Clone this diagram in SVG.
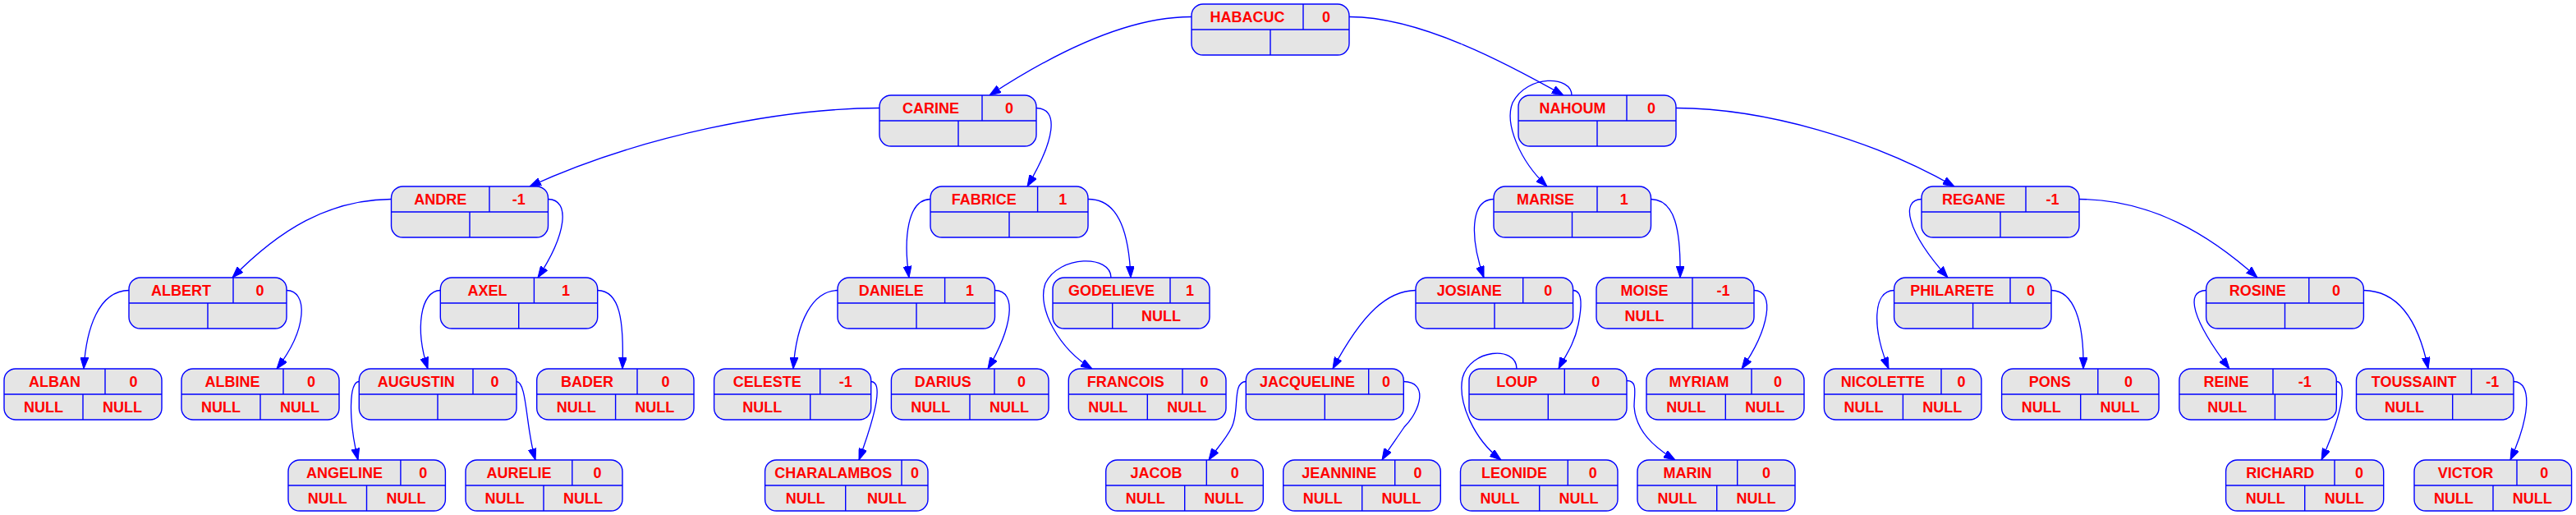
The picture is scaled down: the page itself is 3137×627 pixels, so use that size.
<svg xmlns="http://www.w3.org/2000/svg" width="3137" height="627" viewBox="0 0 3137 627">
<style>
.node rect{fill:#e5e5e5;stroke:#0000ff;stroke-width:1.4}
.node path{fill:none;stroke:#0000ff;stroke-width:1.4}
.node text{font-family:"Liberation Sans",Arial,sans-serif;font-weight:bold;font-size:18px;fill:#ff0000;text-anchor:middle}
.edges path{fill:none;stroke:#0000ff;stroke-width:1.3;marker-end:url(#arr)}
</style>
<defs>
<marker id="arr" markerUnits="userSpaceOnUse" markerWidth="14" markerHeight="10" refX="14" refY="5" orient="auto" viewBox="0 0 14 10">
<path d="M0,0 L14,5 L0,10 z" fill="#0000ff" stroke="#0000ff" stroke-width="1"/>
</marker>
</defs>
<rect width="3137" height="627" fill="#ffffff"/>
<g class="edges" id="edges">
<path d="M1451,20.5 C1360,20 1260,80 1205,116"/>
<path d="M1643,20.5 C1730,20 1840,80 1904,116"/>
<path d="M1071,131.5 C950,132 780,165 645,227"/>
<path d="M1262,131.5 C1290,132 1285,170 1251,227"/>
<path d="M1914,116 C1914,92 1860,90 1842,125 C1832,150 1850,195 1884,227"/>
<path d="M2041,131.5 C2150,132 2280,170 2380,227"/>
<path d="M476.5,242.5 C400,243 340,280 283,338"/>
<path d="M667.5,242.5 C695,243 690,285 655,338"/>
<path d="M1133,242.5 C1105,243 1100,290 1107,338"/>
<path d="M1325,242.5 C1365,242 1375,290 1377,338"/>
<path d="M1819,242.5 C1790,243 1790,290 1807,338"/>
<path d="M2010.5,242.5 C2040,243 2047,280 2046,338"/>
<path d="M2340,242.5 C2315,243 2320,280 2372,338"/>
<path d="M2532,242.5 C2620,243 2690,285 2749,338"/>
<path d="M157,353.5 C120,354 105,400 102,449"/>
<path d="M349,353.5 C375,354 375,400 337,449"/>
<path d="M536.3,353.5 C512,354 505,400 521,449"/>
<path d="M727.7,353.5 C755,354 760,390 758,449"/>
<path d="M1020,353.5 C990,354 970,390 966,449"/>
<path d="M1211.5,353.5 C1240,354 1232,400 1203,449"/>
<path d="M1353,338 C1353,310 1290,310 1273,345 C1262,375 1290,425 1330,449"/>
<path d="M1724,353.5 C1690,354 1660,380 1623,449"/>
<path d="M1916,353.5 C1928,354 1926,375 1922,395 C1917,420 1905,435 1898,449"/>
<path d="M2136,353.5 C2162,354 2155,400 2121,449"/>
<path d="M2306.6,353.5 C2280,354 2280,400 2300,449"/>
<path d="M2498,353.5 C2525,354 2538,390 2537,449"/>
<path d="M2686.6,353.5 C2660,354 2670,390 2715,449"/>
<path d="M2878.4,353.5 C2920,354 2945,390 2957,449"/>
<path d="M437.3,464.5 C425,465 424,510 436,560"/>
<path d="M629,464.5 C642,465 640,520 652,560"/>
<path d="M1060.7,464.5 C1075,465 1068,500 1046,560"/>
<path d="M1517.3,464.5 C1500,465 1510,500 1500,520 C1493,535 1480,548 1472,560"/>
<path d="M1709.3,464.5 C1740,465 1730,500 1710,520 C1700,535 1690,548 1683,560"/>
<path d="M1847,449 C1847,420 1790,425 1781,460 C1775,490 1795,535 1828,560"/>
<path d="M1981,463.5 C1995,463 1990,480 1990,495 C1992,525 2015,545 2040,560"/>
<path d="M2845.3,464.5 C2860,465 2850,510 2827,560"/>
<path d="M3061,464.5 C3085,465 3080,510 3057,560"/>
</g>

<g id="HABACUC" class="node"><rect x="1451" y="5" width="192" height="62" rx="14"/><path d="M1451,36H1643M1587,5V36M1547,36V67"/><text x="1519" y="26.5">HABACUC</text><text x="1615" y="26.5">0</text></g>
<g id="CARINE" class="node"><rect x="1071" y="116" width="191" height="62" rx="14"/><path d="M1071,147H1262M1196,116V147M1167,147V178"/><text x="1133.5" y="137.5">CARINE</text><text x="1229" y="137.5">0</text></g>
<g id="NAHOUM" class="node"><rect x="1849" y="116" width="192" height="62" rx="14"/><path d="M1849,147H2041M1981,116V147M1945,147V178"/><text x="1915" y="137.5">NAHOUM</text><text x="2011" y="137.5">0</text></g>

<g id="ANDRE" class="node"><rect x="476.5" y="227" width="191" height="62" rx="14"/><path d="M476.5,258H667.5M596,227V258M572,258V289"/><text x="536.3" y="248.5">ANDRE</text><text x="631.8" y="248.5">-1</text></g>
<g id="FABRICE" class="node"><rect x="1133" y="227" width="192" height="62" rx="14"/><path d="M1133,258H1325M1263.6,227V258M1229,258V289"/><text x="1198.3" y="248.5">FABRICE</text><text x="1294.3" y="248.5">1</text></g>
<g id="MARISE" class="node"><rect x="1819" y="227" width="191.5" height="62" rx="14"/><path d="M1819,258H2010.5M1945,227V258M1914.5,258V289"/><text x="1882" y="248.5">MARISE</text><text x="1977.8" y="248.5">1</text></g>
<g id="REGANE" class="node"><rect x="2340" y="227" width="192" height="62" rx="14"/><path d="M2340,258H2532M2467,227V258M2436,258V289"/><text x="2403.5" y="248.5">REGANE</text><text x="2499.5" y="248.5">-1</text></g>

<g id="ALBERT" class="node"><rect x="157" y="338" width="192" height="62" rx="14"/><path d="M157,369H349M284,338V369M253,369V400"/><text x="220.5" y="359.5">ALBERT</text><text x="316.5" y="359.5">0</text></g>
<g id="AXEL" class="node"><rect x="536.3" y="338" width="191.4" height="62" rx="14"/><path d="M536.3,369H727.7M650.4,338V369M631.7,369V400"/><text x="593.4" y="359.5">AXEL</text><text x="689" y="359.5">1</text></g>
<g id="DANIELE" class="node"><rect x="1020" y="338" width="191.5" height="62" rx="14"/><path d="M1020,369H1211.5M1150.6,338V369M1116,369V400"/><text x="1085.3" y="359.5">DANIELE</text><text x="1181" y="359.5">1</text></g>
<g id="GODELIEVE" class="node"><rect x="1282" y="338" width="191" height="62" rx="14"/><path d="M1282,369H1473M1425,338V369M1354.7,369V400"/><text x="1353.5" y="359.5">GODELIEVE</text><text x="1449" y="359.5">1</text><text x="1413.9" y="390.5">NULL</text></g>
<g id="JOSIANE" class="node"><rect x="1724" y="338" width="191.6" height="62" rx="14"/><path d="M1724,369H1915.6M1854.7,338V369M1820,369V400"/><text x="1789.3" y="359.5">JOSIANE</text><text x="1885.2" y="359.5">0</text></g>
<g id="MOISE" class="node"><rect x="1944" y="338" width="192" height="62" rx="14"/><path d="M1944,369H2136M2061,338V400"/><text x="2002.5" y="359.5">MOISE</text><text x="2098.5" y="359.5">-1</text><text x="2002.5" y="390.5">NULL</text></g>
<g id="PHILARETE" class="node"><rect x="2306.6" y="338" width="191.4" height="62" rx="14"/><path d="M2306.6,369H2498M2448,338V369M2402.6,369V400"/><text x="2377.3" y="359.5">PHILARETE</text><text x="2473" y="359.5">0</text></g>
<g id="ROSINE" class="node"><rect x="2686.6" y="338" width="191.8" height="62" rx="14"/><path d="M2686.6,369H2878.4M2811.8,338V369M2782.5,369V400"/><text x="2749.2" y="359.5">ROSINE</text><text x="2845.1" y="359.5">0</text></g>

<g id="ALBAN" class="node"><rect x="5" y="449" width="192" height="62" rx="14"/><path d="M5,480H197M128,449V480M101,480V511"/><text x="66.5" y="470.5">ALBAN</text><text x="162.5" y="470.5">0</text><text x="53" y="501.5">NULL</text><text x="149" y="501.5">NULL</text></g>
<g id="ALBINE" class="node"><rect x="221" y="449" width="192" height="62" rx="14"/><path d="M221,480H413M345,449V480M317,480V511"/><text x="283" y="470.5">ALBINE</text><text x="379" y="470.5">0</text><text x="269" y="501.5">NULL</text><text x="365" y="501.5">NULL</text></g>
<g id="AUGUSTIN" class="node"><rect x="437.3" y="449" width="191.7" height="62" rx="14"/><path d="M437.3,480H629M576,449V480M533,480V511"/><text x="506.7" y="470.5">AUGUSTIN</text><text x="602.5" y="470.5">0</text></g>
<g id="BADER" class="node"><rect x="653.7" y="449" width="191.3" height="62" rx="14"/><path d="M653.7,480H845M776,449V480M749.6,480V511"/><text x="714.9" y="470.5">BADER</text><text x="810.5" y="470.5">0</text><text x="701.7" y="501.5">NULL</text><text x="797.3" y="501.5">NULL</text></g>
<g id="CELESTE" class="node"><rect x="869.6" y="449" width="191.1" height="62" rx="14"/><path d="M869.6,480H1060.7M998.7,449V480M986.7,480V511"/><text x="934.2" y="470.5">CELESTE</text><text x="1029.7" y="470.5">-1</text><text x="928.2" y="501.5">NULL</text></g>
<g id="DARIUS" class="node"><rect x="1085.4" y="449" width="191.6" height="62" rx="14"/><path d="M1085.4,480H1277M1211,449V480M1181,480V511"/><text x="1148.2" y="470.5">DARIUS</text><text x="1244" y="470.5">0</text><text x="1133.2" y="501.5">NULL</text><text x="1229" y="501.5">NULL</text></g>
<g id="FRANCOIS" class="node"><rect x="1301.3" y="449" width="191.7" height="62" rx="14"/><path d="M1301.3,480H1493M1440,449V480M1397.3,480V511"/><text x="1370.7" y="470.5">FRANCOIS</text><text x="1466.5" y="470.5">0</text><text x="1349.3" y="501.5">NULL</text><text x="1445.2" y="501.5">NULL</text></g>
<g id="JACQUELINE" class="node"><rect x="1517.3" y="449" width="192" height="62" rx="14"/><path d="M1517.3,480H1709.3M1666.7,449V480M1613.3,480V511"/><text x="1592" y="470.5">JACQUELINE</text><text x="1688" y="470.5">0</text></g>
<g id="LOUP" class="node"><rect x="1789" y="449" width="192" height="62" rx="14"/><path d="M1789,480H1981M1905.3,449V480M1885.3,480V511"/><text x="1847.2" y="470.5">LOUP</text><text x="1943.2" y="470.5">0</text></g>
<g id="MYRIAM" class="node"><rect x="2005" y="449" width="192" height="62" rx="14"/><path d="M2005,480H2197M2133,449V480M2101.3,480V511"/><text x="2069" y="470.5">MYRIAM</text><text x="2165" y="470.5">0</text><text x="2053.2" y="501.5">NULL</text><text x="2149.2" y="501.5">NULL</text></g>
<g id="NICOLETTE" class="node"><rect x="2221.4" y="449" width="191.5" height="62" rx="14"/><path d="M2221.4,480H2412.9M2364,449V480M2317.4,480V511"/><text x="2292.7" y="470.5">NICOLETTE</text><text x="2388.5" y="470.5">0</text><text x="2269.4" y="501.5">NULL</text><text x="2365.2" y="501.5">NULL</text></g>
<g id="PONS" class="node"><rect x="2437.6" y="449" width="191.4" height="62" rx="14"/><path d="M2437.6,480H2629M2554.8,449V480M2533.7,480V511"/><text x="2496.2" y="470.5">PONS</text><text x="2591.9" y="470.5">0</text><text x="2485.7" y="501.5">NULL</text><text x="2581.4" y="501.5">NULL</text></g>
<g id="REINE" class="node"><rect x="2653.9" y="449" width="191.4" height="62" rx="14"/><path d="M2653.9,480H2845.3M2768,449V480M2770.4,480V511"/><text x="2711" y="470.5">REINE</text><text x="2806.7" y="470.5">-1</text><text x="2712.2" y="501.5">NULL</text></g>
<g id="TOUSSAINT" class="node"><rect x="2869.5" y="449" width="191.5" height="62" rx="14"/><path d="M2869.5,480H3061M3009.6,449V480M2986.7,480V511"/><text x="2939.6" y="470.5">TOUSSAINT</text><text x="3035.3" y="470.5">-1</text><text x="2928.1" y="501.5">NULL</text></g>

<g id="ANGELINE" class="node"><rect x="351" y="560" width="191.4" height="62" rx="14"/><path d="M351,591H542.4M487.9,560V591M446.5,591V622"/><text x="419.5" y="581.5">ANGELINE</text><text x="515.2" y="581.5">0</text><text x="398.8" y="612.5">NULL</text><text x="494.5" y="612.5">NULL</text></g>
<g id="AURELIE" class="node"><rect x="567" y="560" width="191" height="62" rx="14"/><path d="M567,591H758M696.8,560V591M662,591V622"/><text x="631.9" y="581.5">AURELIE</text><text x="727.4" y="581.5">0</text><text x="614.5" y="612.5">NULL</text><text x="710" y="612.5">NULL</text></g>
<g id="CHARALAMBOS" class="node"><rect x="931.6" y="560" width="198.4" height="62" rx="14"/><path d="M931.6,591H1130M1098,560V591M1029.7,591V622"/><text x="1014.8" y="581.5">CHARALAMBOS</text><text x="1114" y="581.5">0</text><text x="980.7" y="612.5">NULL</text><text x="1079.9" y="612.5">NULL</text></g>
<g id="JACOB" class="node"><rect x="1346.7" y="560" width="191.6" height="62" rx="14"/><path d="M1346.7,591H1538.3M1469.3,560V591M1442.7,591V622"/><text x="1408" y="581.5">JACOB</text><text x="1503.8" y="581.5">0</text><text x="1394.7" y="612.5">NULL</text><text x="1490.5" y="612.5">NULL</text></g>
<g id="JEANNINE" class="node"><rect x="1562.7" y="560" width="191.6" height="62" rx="14"/><path d="M1562.7,591H1754.3M1698.7,560V591M1658.7,591V622"/><text x="1630.7" y="581.5">JEANNINE</text><text x="1726.5" y="581.5">0</text><text x="1610.7" y="612.5">NULL</text><text x="1706.5" y="612.5">NULL</text></g>
<g id="LEONIDE" class="node"><rect x="1778.5" y="560" width="191.5" height="62" rx="14"/><path d="M1778.5,591H1970M1909.3,560V591M1874.7,591V622"/><text x="1843.9" y="581.5">LEONIDE</text><text x="1939.7" y="581.5">0</text><text x="1826.6" y="612.5">NULL</text><text x="1922.4" y="612.5">NULL</text></g>
<g id="MARIN" class="node"><rect x="1994" y="560" width="192" height="62" rx="14"/><path d="M1994,591H2186M2115.7,560V591M2090.7,591V622"/><text x="2054.9" y="581.5">MARIN</text><text x="2150.9" y="581.5">0</text><text x="2042.4" y="612.5">NULL</text><text x="2138.4" y="612.5">NULL</text></g>
<g id="RICHARD" class="node"><rect x="2710.6" y="560" width="192.1" height="62" rx="14"/><path d="M2710.6,591H2902.7M2843,560V591M2806.7,591V622"/><text x="2776.8" y="581.5">RICHARD</text><text x="2872.9" y="581.5">0</text><text x="2758.7" y="612.5">NULL</text><text x="2854.7" y="612.5">NULL</text></g>
<g id="VICTOR" class="node"><rect x="2940" y="560" width="191.6" height="62" rx="14"/><path d="M2940,591H3131.6M3065,560V591M3036,591V622"/><text x="3002.5" y="581.5">VICTOR</text><text x="3098.3" y="581.5">0</text><text x="2988" y="612.5">NULL</text><text x="3083.8" y="612.5">NULL</text></g>
</svg>
